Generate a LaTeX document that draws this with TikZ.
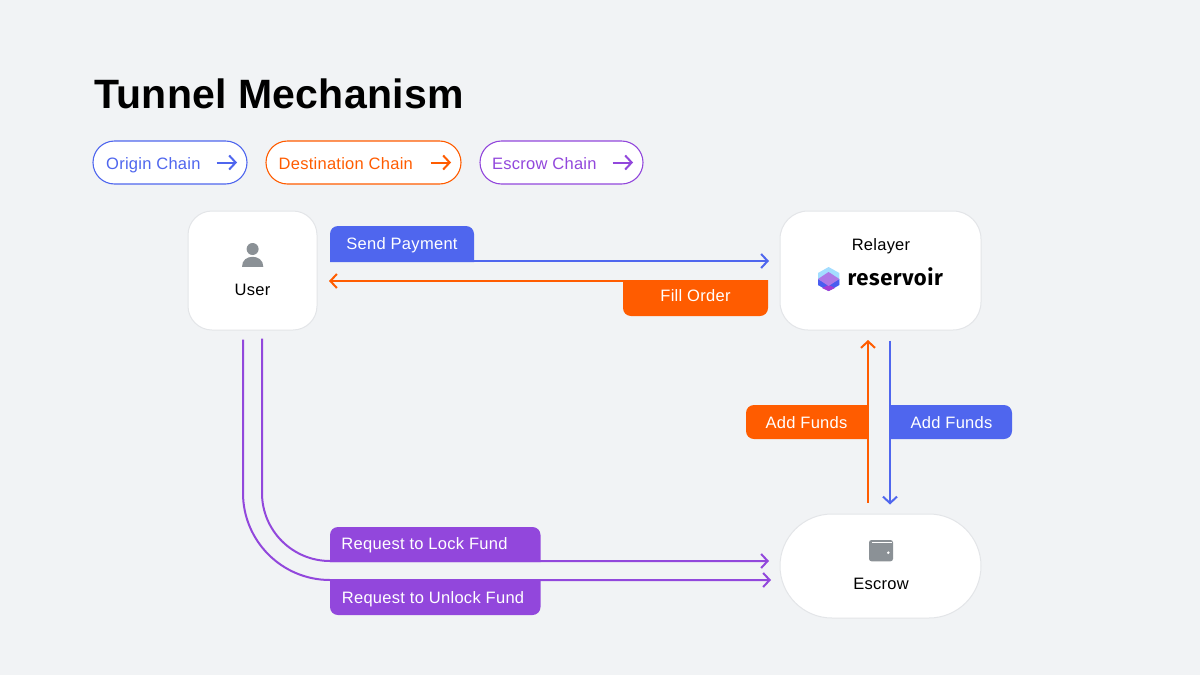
\documentclass[tikz,border=0pt]{standalone}
\usepackage{fontspec}
\setmainfont{Liberation Sans}
\newfontfamily\logofont{Fira Sans}
\usetikzlibrary{arrows.meta}

\definecolor{pagebg}{HTML}{F1F3F5}
\definecolor{cardline}{HTML}{E3E5E8}
\definecolor{originblue}{HTML}{4F66EE}
\definecolor{destorange}{HTML}{FF5C00}
\definecolor{escrowpurple}{HTML}{9247DC}
\definecolor{icongray}{HTML}{8B9196}
\definecolor{logosky}{HTML}{A3DDFF}
\definecolor{logoviolet}{HTML}{AE78E6}
\definecolor{logoblue}{HTML}{4A5CF0}
\definecolor{logomagenta}{HTML}{A63CD2}

\tikzset{
  card/.style={draw=cardline, fill=white, line width=1pt},
  cardtext/.style={text=black, anchor=base, inner sep=0pt, font=\fontsize{16.5}{18}\selectfont\addfontfeatures{LetterSpace=1.5}},
  chip/.style={draw=#1, fill=white, line width=1.1pt, minimum height=43pt, rounded corners=21.5pt, inner sep=0pt},
  chiptext/.style={text=#1, anchor=base west, inner sep=0pt, font=\fontsize{16.5}{18}\selectfont\addfontfeatures{LetterSpace=1.6}},
  tagtext/.style={text=white, anchor=base, inner sep=0pt, font=\fontsize{16.5}{18}\selectfont\addfontfeatures{LetterSpace=1.8}},
  flow/.style={draw=#1, line width=2pt, -{Straight Barb[length=6.5pt,width=14pt,line width=2pt]}},
}

\begin{document}
\begin{tikzpicture}[x=1pt,y=-1pt]
  % Page
  \fill[pagebg] (0,0) rectangle (1200,675);
  \useasboundingbox (0,0) rectangle (1200,675);

  % Title
  \node[anchor=base west, inner sep=0pt, font=\fontsize{41}{44}\selectfont\bfseries\addfontfeatures{LetterSpace=0.6}] (title) at (94,108) {Tunnel Mechanism};

  % Legend chips
  \node[chip=originblue, minimum width=154pt] (originchip) at (170,162.5) {};
  \node[chip=destorange, minimum width=195pt] (destchip) at (363.5,162.5) {};
  \node[chip=escrowpurple, minimum width=163pt] (escrowchip) at (561.5,162.5) {};
  \node[chiptext=originblue] (originlabel) at (106,169) {Origin Chain};
  \node[chiptext=destorange] (destlabel) at (278.5,169) {Destination Chain};
  \node[chiptext=escrowpurple] (escrowlabel) at (492,169) {Escrow Chain};
  \draw[flow=originblue] ([xshift=-31pt]originchip.east) -- ([xshift=-10.5pt]originchip.east);
  \draw[flow=destorange] ([xshift=-31pt]destchip.east) -- ([xshift=-10.5pt]destchip.east);
  \draw[flow=escrowpurple] ([xshift=-31pt]escrowchip.east) -- ([xshift=-10.5pt]escrowchip.east);

  % Cards
  \node[card, rounded corners=24pt, minimum width=129pt, minimum height=119pt] (user) at (252.5,270.5) {};
  \node[card, rounded corners=28pt, minimum width=201pt, minimum height=119pt] (relayer) at (880.5,270.5) {};
  \node[card, rounded corners=52pt, minimum width=201pt, minimum height=104pt] (escrow) at (880.5,566) {};
  \node[cardtext] (userlabel) at (252.5,295) {User};
  \node[cardtext] (relayerlabel) at (881,250.5) {Relayer};
  \node[cardtext] (escrowtext) at (881,589) {Escrow};

  % User icon
  \fill[icongray] (252.6,249) circle (6);
  \fill[icongray] (242,266.8) .. controls (242,260) and (247,256.8) .. (252.6,256.8) .. controls (258,256.8) and (263.3,260) .. (263.3,266.8) -- cycle;

  % Wallet icon
  \fill[icongray, rounded corners=2.5pt] (869,540) rectangle (893,561.3);
  \fill[white] (871.7,542.3) rectangle (891.7,543.3);
  \fill[white] (888.3,552.7) circle (1.4);

  % Reservoir logo
  \fill[logosky] (828.6,267) -- (839.3,273) -- (839.3,285) -- (828.6,291) -- (818,285) -- (818,273) -- cycle;
  \fill[logoblue] (818,279) -- (828.6,285) -- (839.3,279) -- (839.3,285) -- (828.6,291) -- (818,285) -- cycle;
  \fill[logomagenta] (828.6,285) -- (835,288) -- (828.6,291) -- (822,288) -- cycle;
  \fill[logoviolet] (828.6,272) -- (839.3,279) -- (828.6,286) -- (818,279) -- cycle;
  \node[font=\logofont\fontsize{22}{24}\selectfont\bfseries\addfontfeatures{LetterSpace=2.5}, inner sep=0pt, anchor=base west] (reservoirlabel) at (847.5,285) {reservoir};

  % Tags behind the arrows
  \fill[originblue, rounded corners=8pt] (330,262) -- (330,226) -- (474,226) [sharp corners] -- (474,262) -- cycle;
  \fill[destorange, rounded corners=8pt] (623,280) -- (623,316) -- (768,316) [sharp corners] -- (768,280) -- cycle;
  \fill[destorange, rounded corners=8pt] (868,405) -- (746,405) -- (746,439) [sharp corners] -- (868,439) -- cycle;
  \fill[originblue, rounded corners=8pt] (890,405) -- (1012,405) -- (1012,439) [sharp corners] -- (890,439) -- cycle;
  \fill[escrowpurple, rounded corners=8pt] (330,562) -- (330,527) -- (540.5,527) [sharp corners] -- (540.5,562) -- cycle;
  \fill[escrowpurple, rounded corners=8pt] (330,580) -- (330,615) -- (540.5,615) [sharp corners] -- (540.5,580) -- cycle;
  \node[tagtext] (sendtag) at (402,249.5) {Send Payment};
  \node[tagtext] (filltag) at (695.5,301.5) {Fill Order};
  \node[tagtext] (addorange) at (806.5,428.5) {Add Funds};
  \node[tagtext] (addblue) at (951.5,428.5) {Add Funds};
  \node[tagtext] (locktag) at (424.5,549.5) {Request to Lock Fund};
  \node[tagtext] (unlocktag) at (433,603.5) {Request to Unlock Fund};

  % Connectors
  \draw[flow=originblue] ([shift={(13pt,9.5pt)}]user.east) -- ([shift={(-10.5pt,9.5pt)}]relayer.west);
  \draw[flow=destorange] ([shift={(-12pt,-10.5pt)}]relayer.west) -- ([shift={(11.5pt,-10.5pt)}]user.east);
  \draw[flow=destorange] ([shift={(-12.5pt,11pt)}]escrow.north) -- ([shift={(-12.5pt,-9.5pt)}]relayer.south);
  \draw[flow=originblue] ([shift={(9.5pt,-10pt)}]relayer.south) -- ([shift={(9.5pt,9pt)}]escrow.north);
  \draw[flow=escrowpurple, rounded corners=68pt] ([shift={(9.5pt,-8pt)}]user.south) |- ([shift={(-10.5pt,5pt)}]escrow.west);
  \draw[flow=escrowpurple, rounded corners=87pt] ([shift={(-9.5pt,-9pt)}]user.south) |- ([shift={(-8.5pt,-14pt)}]escrow.west);
\end{tikzpicture}
\end{document}
